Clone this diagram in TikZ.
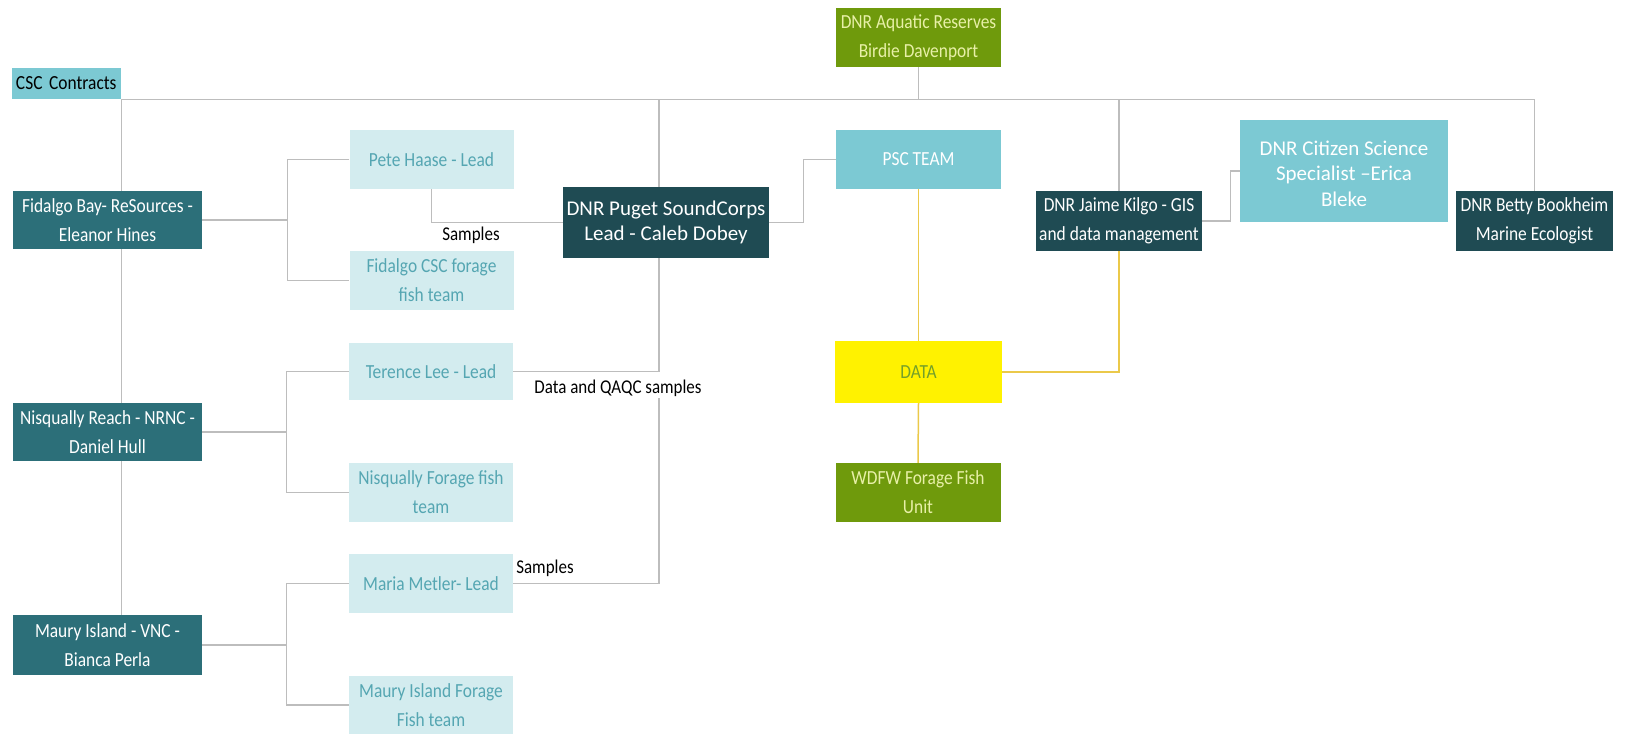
\documentclass[tikz,border=0pt]{standalone}
\usepackage{fontspec}
\setmainfont{Carlito}
\newfontfamily\cond[FakeStretch=0.87]{Carlito}

\definecolor{sitecol}{HTML}{2C6F79}
\definecolor{leadcol}{HTML}{1F4B53}
\definecolor{crewcol}{HTML}{D3ECEF}
\definecolor{crewtext}{HTML}{55A6B2}
\definecolor{psccol}{HTML}{7CC9D3}
\definecolor{olive}{HTML}{6F9A0C}
\definecolor{olivetext}{HTML}{E8F0A8}
\definecolor{datatext}{HTML}{74A02A}
\definecolor{linkgray}{HTML}{BDBDBD}
\definecolor{datagold}{HTML}{EBC94A}

\tikzset{
  org/.style={rectangle, inner sep=2pt, align=center, minimum height=59pt,
    font=\cond\fontsize{20}{29}\selectfont},
  site/.style={org, fill=sitecol, text=white, minimum width=189pt, minimum height=58pt},
  crew/.style={org, fill=crewcol, text=crewtext, minimum width=164pt},
  lead/.style={org, fill=leadcol, text=white},
  psc/.style={org, fill=psccol, text=white, minimum width=165pt},
  reserve/.style={org, fill=olive, text=olivetext, minimum width=165pt},
  databox/.style={org, fill=yellow, text=datatext, minimum width=167pt, minimum height=62pt},
  link/.style={draw=linkgray, line width=1.3pt},
  datalink/.style={draw=datagold, line width=1.5pt},
  note/.style={font=\cond\fontsize{19.5}{22}\selectfont, inner sep=1pt}
}

\begin{document}
\begin{tikzpicture}[x=1pt,y=-1pt]
\useasboundingbox (0,0) rectangle (1626,734);

% top row
\node[org, fill=psccol, text=black, minimum width=109pt, minimum height=31pt,
  text width=101pt, align=left, inner xsep=4pt] (csc) at (66.5,83.5) {CSC Contracts};
\node[reserve] (aquatic) at (918.5,37.5) {DNR Aquatic Reserves\\Birdie Davenport};

% DNR staff
\node[lead, minimum width=206pt, minimum height=71pt, font=\fontsize{21}{25}\selectfont]
  (caleb) at (666,222.5) {DNR Puget SoundCorps\\Lead - Caleb Dobey};
\node[psc] (psc) at (918.5,159.5) {PSC TEAM};
\node[lead, minimum width=166pt, minimum height=60pt] (jaime) at (1119,221)
  {DNR Jaime Kilgo - GIS\\and data management};
\node[psc, minimum width=208pt, minimum height=102pt, font=\fontsize{21}{25.5}\selectfont]
  (citizen) at (1344,171) {\mbox{}\\[-5.5pt]DNR Citizen Science\\Specialist –Erica\\Bleke};
\node[lead, minimum width=157pt, minimum height=60pt] (betty) at (1534.5,221)
  {DNR Betty Bookheim\\Marine Ecologist};
\node[databox] (data) at (918.5,372) {DATA};
\node[reserve] (wdfw) at (918,492.5) {WDFW Forage Fish\\Unit};

% sites
\node[site] (fidalgo) at (107.5,220) {Fidalgo Bay- ReSources -\\Eleanor Hines};
\node[site] (nisq) at (107.5,432) {Nisqually Reach - NRNC -\\Daniel Hull};
\node[site, minimum height=60pt] (maury) at (107.5,645) {Maury Island - VNC -\\Bianca Perla};

% site teams
\node[crew] (pete) at (431.5,159.5) {Pete Haase - Lead};
\node[crew] (fcsc) at (431.5,280.5) {Fidalgo CSC forage\\fish team};
\node[crew, minimum height=57pt] (terence) at (431,371.5) {Terence Lee - Lead};
\node[crew] (nforage) at (431,492.5) {Nisqually Forage fish\\team};
\node[crew] (maria) at (431,583.5) {Maria Metler- Lead};
\node[crew, minimum height=58pt] (mforage) at (431,705) {Maury Island Forage\\Fish team};

% labels
\node[note] (samplesA) at (471,235) {Samples};
\node[note] (qaqc) at (618,388) {Data and QAQC samples};
\node[note] (samplesB) at (545,568) {Samples};

% main line
\draw[link] (csc.south east) -| (betty.north);
\draw[link] (aquatic.south) -- (aquatic.south |- csc.south);
\draw[link] ([xshift=-7pt]caleb.north) -- ([xshift=-7pt]caleb.north |- csc.south);
\draw[link] (jaime.north) -- (jaime.north |- csc.south);
\draw[link] (csc.south east) -- (fidalgo.north -| csc.east);
\draw[link] (fidalgo.south -| csc.east) -- (nisq.north -| csc.east);
\draw[link] (nisq.south -| csc.east) -- (maury.north -| csc.east);

% site brackets
\draw[link] (fidalgo.east) -- ++(85,0);
\draw[link] (pete.west) -- ++(-62,0) |- (fcsc.west);
\draw[link] (nisq.east) -- ++(85,0);
\draw[link] (terence.west) -- ++(-62,0) |- (nforage.west);
\draw[link] (maury.east) -- ++(85,0);
\draw[link] (maria.west) -- ++(-62,0) |- (mforage.west);

% samples and data flow
\draw[link] (pete.south) |- (caleb.west);
\draw[link] (caleb.east) -- ++(34,0) |- (psc.west);
\draw[link] ([xshift=-7pt]caleb.south) |- (terence.east);
\draw[link] (maria.east) -| ([xshift=41pt]qaqc.south);
\draw[link] (jaime.east) -- ++(28,0) |- (citizen.west);

% data
\draw[datalink] (psc.south) -- (data.north);
\draw[datalink] (data.south) -- (wdfw.north);
\draw[datalink] (data.east) -| (jaime.south);
\end{tikzpicture}
\end{document}
